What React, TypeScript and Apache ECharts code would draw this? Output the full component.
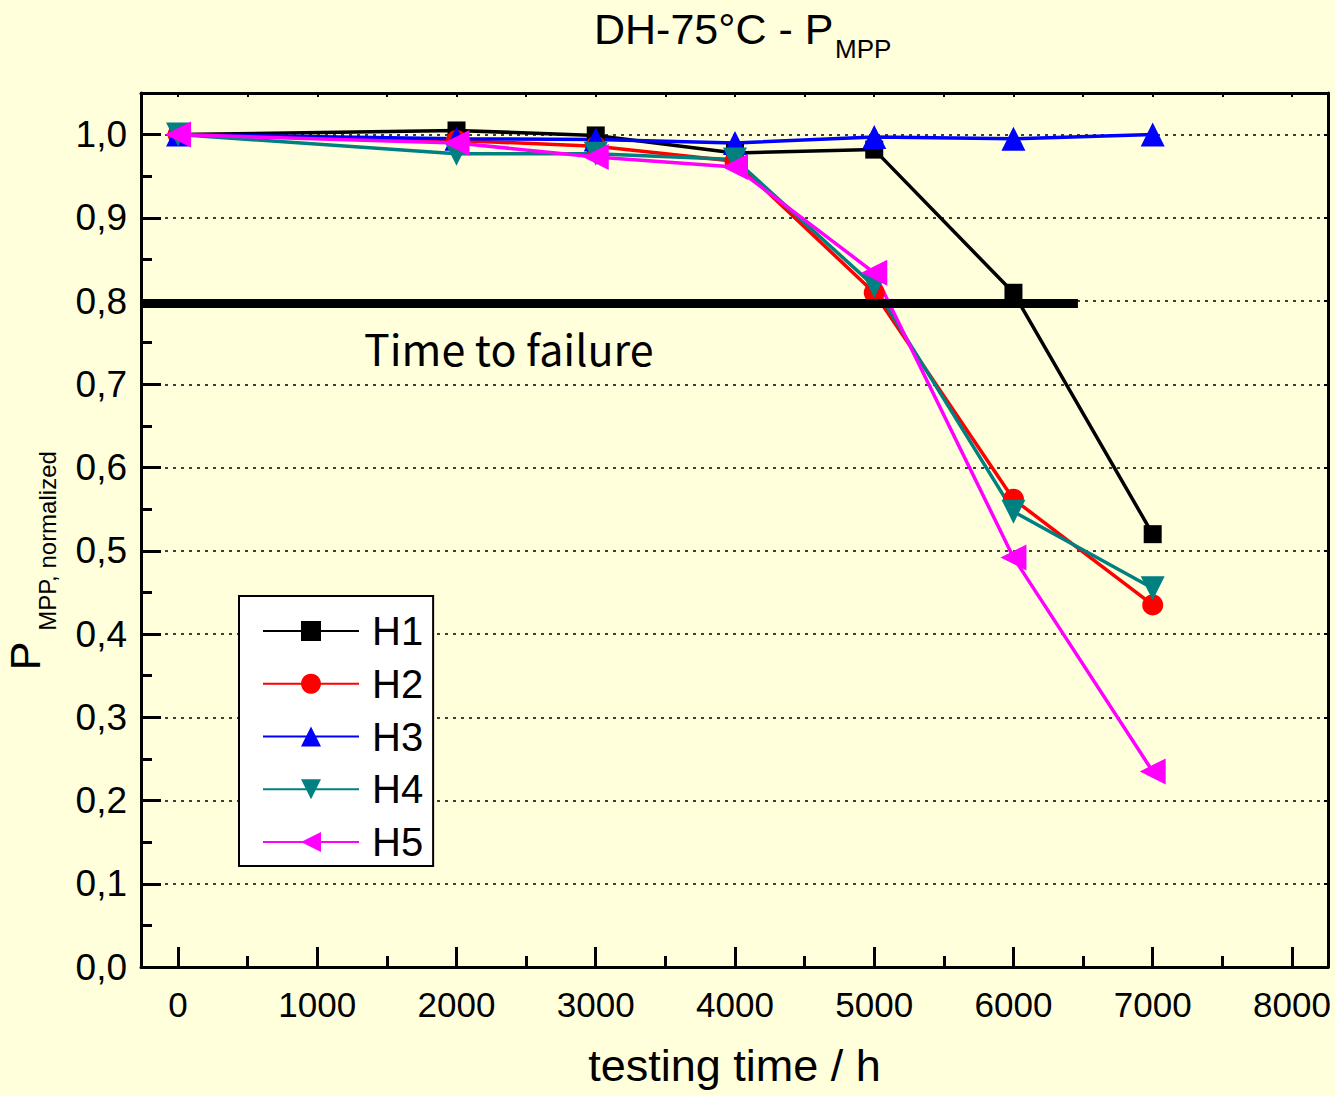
import React, { useEffect, useRef } from "react";
import * as echarts from "echarts";

const hours = [0, 2000, 3000, 4000, 5000, 6000, 7000];
const h1 = [1.0, 1.005, 0.999, 0.978, 0.982, 0.81, 0.52];
const h2 = [1.0, 0.993, 0.986, 0.968, 0.81, 0.562, 0.435];
const h3 = [1.0, 0.995, 0.994, 0.99, 0.997, 0.995, 1.0];
const h4 = [1.0, 0.977, 0.977, 0.97, 0.818, 0.547, 0.455];
const h5 = [1.0, 0.99, 0.973, 0.961, 0.834, 0.492, 0.235];
const failureLevel = 0.797;
const failureEndHour = 6463;
const xMajorTicks = [0, 1000, 2000, 3000, 4000, 5000, 6000, 7000, 8000];
const xMinorTicks = [500, 1500, 2500, 3500, 4500, 5500, 6500, 7500];

const FONT = "'Liberation Sans', Arial, sans-serif";
const BG = "#FFFFDC";

const X_MIN = -266;
const X_MAX = 8259;

export default function App() {
  const ref = useRef<HTMLDivElement>(null);
  useEffect(() => {
    if (!ref.current) return;
    const chart = echarts.init(ref.current, null, { renderer: "svg" });
    const pair = (ys: number[]) => hours.map((h, i) => [h, ys[i]]);
    const mk = (name: string, ys: number[], color: string, symbol: string, size: number, rot = 0) => ({
      name,
      type: "line",
      data: pair(ys),
      xAxisIndex: 0,
      yAxisIndex: 0,
      symbol,
      symbolSize: size,
      symbolRotate: rot,
      lineStyle: { color, width: 3.5 },
      itemStyle: { color },
      z: 3,
    });
    const option: any = {
      animation: false,
      backgroundColor: BG,
      grid: { left: 141, top: 93, width: 1187, height: 874, outerBoundsMode: "none", containLabel: false },
      legend: {
        data: ["H1", "H2", "H3", "H4", "H5"],
        orient: "vertical",
        left: 239,
        top: 596,
        backgroundColor: "#FFFFFF",
        borderColor: "#000",
        borderWidth: 2,
        padding: [15, 10, 4, 23],
        itemWidth: 96,
        itemHeight: 25,
        itemGap: 12.75,
        textStyle: { fontFamily: FONT, fontSize: 40, color: "#000", padding: [0, 0, 0, 8] },
      },
      xAxis: [
        {
          type: "value",
          position: "bottom",
          min: X_MIN,
          max: X_MAX,
          name: "testing time / h",
          nameLocation: "middle",
          nameGap: 76,
          nameTextStyle: { fontFamily: FONT, fontSize: 45, color: "#000" },
          axisLine: { show: true, onZero: false, lineStyle: { color: "#000", width: 3 } },
          axisTick: { show: true, inside: true, length: 20, customValues: xMajorTicks, lineStyle: { color: "#000", width: 3 } },
          axisLabel: {
            show: true,
            customValues: xMajorTicks,
            margin: 20,
            fontFamily: FONT,
            fontSize: 35,
            color: "#000",
            formatter: (v: number) => String(v),
          },
          splitLine: { show: false },
        },
        {
          type: "value",
          position: "bottom",
          min: X_MIN,
          max: X_MAX,
          axisLine: { show: false, onZero: false },
          axisTick: { show: true, inside: true, length: 11, customValues: xMinorTicks, lineStyle: { color: "#000", width: 3 } },
          axisLabel: { show: false },
          splitLine: { show: false },
        },
        {
          type: "value",
          position: "top",
          min: X_MIN,
          max: X_MAX,
          axisLine: { show: true, onZero: false, lineStyle: { color: "#000", width: 3 } },
          axisTick: { show: true, inside: true, length: 4, customValues: xMajorTicks.concat(xMinorTicks), lineStyle: { color: "#000", width: 2 } },
          axisLabel: { show: false },
          splitLine: { show: false },
        },
      ],
      yAxis: [
        {
          type: "value",
          position: "left",
          min: 0,
          max: 1.05,
          interval: 0.1,
          axisLine: { show: true, onZero: false, lineStyle: { color: "#000", width: 3 } },
          axisTick: { show: true, inside: true, length: 20, lineStyle: { color: "#000", width: 3 } },
          minorTick: { show: true, splitNumber: 2, length: 11, lineStyle: { color: "#000", width: 3 } },
          axisLabel: {
            showMaxLabel: false,
            margin: 14,
            fontFamily: FONT,
            fontSize: 37,
            color: "#000",
            formatter: (v: number) => (v > 1.001 ? "" : v.toFixed(1).replace(".", ",")),
          },
          splitLine: { show: true, lineStyle: { color: "#000", width: 1.6, type: [3, 5] } },
        },
        {
          type: "value",
          position: "right",
          min: 0,
          max: 1.05,
          interval: 0.1,
          axisLine: { show: true, onZero: false, lineStyle: { color: "#000", width: 3 } },
          axisTick: { show: true, inside: true, length: 4, lineStyle: { color: "#000", width: 2 } },
          axisLabel: { show: false },
          splitLine: { show: false },
        },
      ],
      series: [
        mk("H1", h1, "#000000", "rect", 18),
        mk("H2", h2, "#FF0000", "circle", 21),
        mk("H3", h3, "#0000FF", "triangle", 24),
        mk("H4", h4, "#008080", "triangle", 24, 180),
        mk("H5", h5, "#FF00FF", "triangle", 26, 90),
        {
          name: "failure",
          type: "line",
          data: [
            [X_MIN, failureLevel],
            [failureEndHour, failureLevel],
          ],
          symbol: "none",
          silent: true,
          lineStyle: { color: "#000", width: 9, cap: "butt" },
          z: 5,
        },
      ],
      graphic: [
        {
          type: "text",
          x: 594,
          y: 29,
          style: {
            text: "DH-75°C - P",
            fontFamily: FONT,
            fontSize: 43,
            fill: "#000",
            textAlign: "left",
            textVerticalAlign: "middle",
          },
        },
        {
          type: "text",
          x: 835,
          y: 49,
          style: {
            text: "MPP",
            fontFamily: FONT,
            fontSize: 26,
            fill: "#000",
            textAlign: "left",
            textVerticalAlign: "middle",
          },
        },
        {
          type: "text",
          x: 364,
          y: 347,
          style: {
            text: "Time to failure",
            fontFamily: "'Noto Sans CJK JP', 'DejaVu Sans', sans-serif",
            fontSize: 43,
            fill: "#000",
            textAlign: "left",
            textVerticalAlign: "middle",
          },
        },
        {
          type: "text",
          x: 25,
          y: 656,
          rotation: Math.PI / 2,
          style: {
            text: "P",
            fontFamily: FONT,
            fontSize: 43,
            fill: "#000",
            textAlign: "center",
            textVerticalAlign: "middle",
          },
        },
        {
          type: "text",
          x: 47,
          y: 541,
          rotation: Math.PI / 2,
          style: {
            text: "MPP, normalized",
            fontFamily: FONT,
            fontSize: 24,
            fill: "#000",
            textAlign: "center",
            textVerticalAlign: "middle",
          },
        },
      ],
    };
    chart.setOption(option);
    return () => chart.dispose();
  }, []);
  return <div ref={ref} style={{ position: "fixed", left: 0, top: 0, width: 1335, height: 1096 }} />;
}
